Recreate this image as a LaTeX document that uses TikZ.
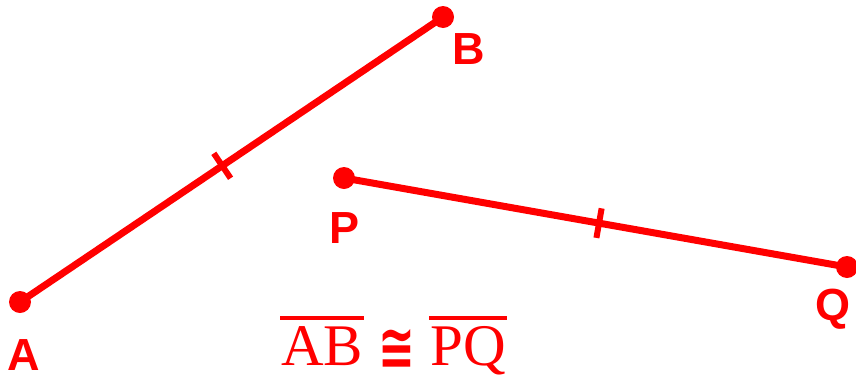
\documentclass[tikz,border=0pt]{standalone}
\usepackage{fontspec}
\usepackage{graphicx}
\setmainfont{Liberation Serif}
\setsansfont{Liberation Sans}
\newfontfamily\symfont{DejaVu Sans}
\newcommand\myovl[1]{\vbox{\hrule height 4pt\kern 6pt\hbox{\kern1pt#1\kern1pt}}}
\begin{document}
\begin{tikzpicture}[x=1pt,y=-1pt,
  seg/.style={draw=red,line width=7pt},
  dot/.style={circle,fill=red,minimum size=22pt,inner sep=0pt},
  tickmark/.style={rectangle,fill=red,minimum width=6pt,minimum height=30pt,inner sep=0pt,sloped},
  ptlabel/.style={anchor=base,text=red,font=\sffamily\bfseries\fontsize{45}{45}\selectfont,inner sep=0pt}]
\useasboundingbox (0,0) rectangle (856,381);
\node[dot] (A) at (20,302) {};
\node[dot] (B) at (443,17) {};
\node[dot] (P) at (344,178) {};
\node[dot] (Q) at (847,267) {};
\draw[seg] (A.center) -- node[tickmark,pos=0.478] (tAB) {} (B.center);
\draw[seg] (P.center) -- node[tickmark,pos=0.507] (tPQ) {} (Q.center);
\node[ptlabel] (lA) at (23.5,370) {A};
\node[ptlabel] (lB) at (469,64) {B};
\node[ptlabel] (lP) at (345,243) {P};
\node[ptlabel] (lQ) at (833,320) {Q};
\node[anchor=base,text=red,inner sep=0pt] (eq) at (393.5,365)
  {\fontsize{59}{59}\selectfont\myovl{AB}\kern14pt\raisebox{-4pt}{\scalebox{1}[1.45]{\symfont\bfseries\fontsize{44}{44}\selectfont ≅}}\kern14pt\myovl{PQ}};
\end{tikzpicture}
\end{document}
